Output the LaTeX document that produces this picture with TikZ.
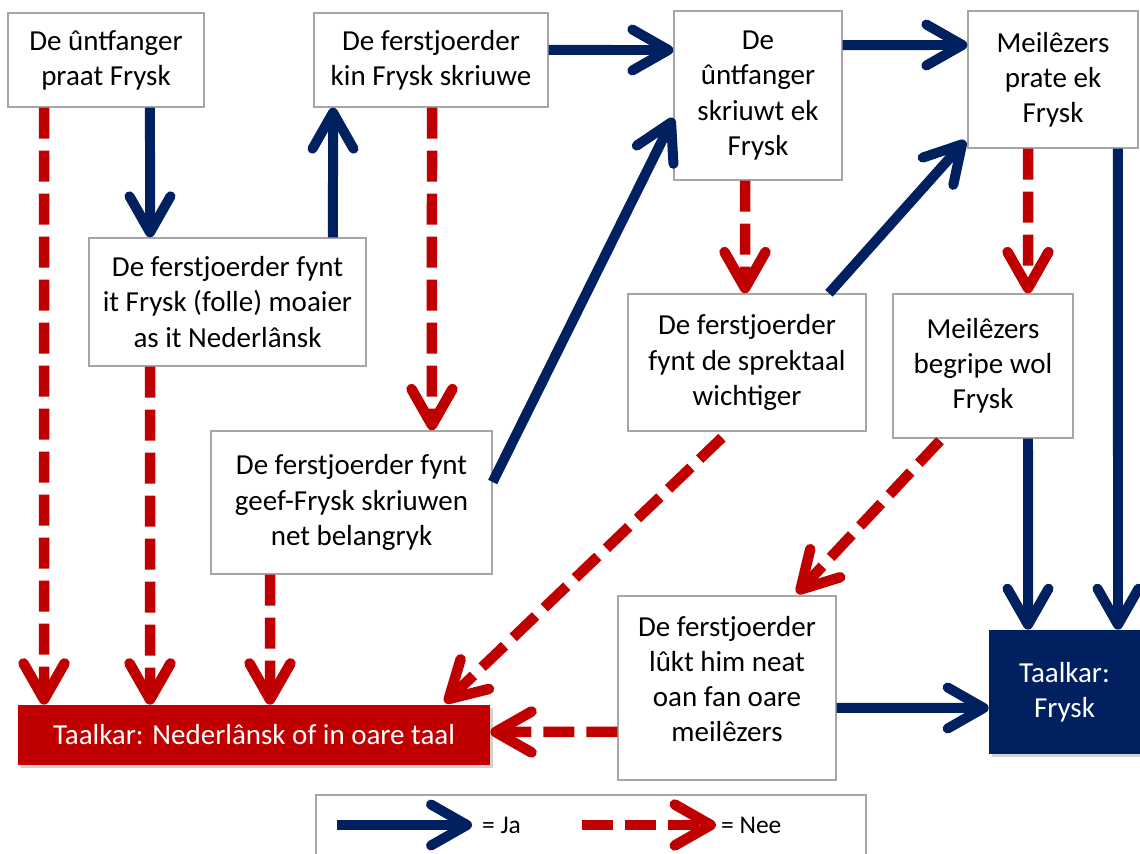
\documentclass[tikz,border=0pt]{standalone}
\usepackage{fontspec}
\setmainfont{Carlito}
\usetikzlibrary{arrows.meta,shadows}
\definecolor{jablue}{HTML}{002060}
\definecolor{neered}{HTML}{C00000}
\definecolor{boxgrey}{HTML}{A6A6A6}
\tikzset{
  box/.style={draw=boxgrey, line width=0.8pt, fill=white, align=center, inner sep=2pt},
  nlbox/.style={fill=neered, text=white, align=center, drop shadow={shadow xshift=0.06cm, shadow yshift=-0.06cm, opacity=0.35}},
  fybox/.style={fill=jablue, text=white, align=center, drop shadow={shadow xshift=0.06cm, shadow yshift=-0.06cm, opacity=0.35}},
  ja/.style={draw=jablue, line width=0.2cm, -{Straight Barb[round, length=0.72cm, width=0.82cm]}},
  nee/.style={draw=neered, line width=0.21cm, dash pattern=on 0.62cm off 0.24cm, -{Straight Barb[round, length=0.72cm, width=0.82cm]}},
  legtext/.style={anchor=west, inner sep=1pt, font=\fontsize{14.5}{18}\selectfont}
}
\begin{document}
\begin{tikzpicture}[x=0.02cm, y=-0.02cm, font=\fontsize{16.5}{20}\selectfont]
\useasboundingbox (0,0) rectangle (1140,854);
\fill[white] (0,0) rectangle (1140,854);

% boxes
\node[box, minimum width=3.92cm, minimum height=1.88cm] (A) at (106,60) {De ûntfanger\\praat Frysk};
\node[box, minimum width=4.68cm, minimum height=1.88cm] (B) at (431,60) {De ferstjoerder\\kin Frysk skriuwe};
\node[box, minimum width=3.36cm, minimum height=3.38cm] (C) at (758,95.5) {De\\ûntfanger\\skriuwt ek\\Frysk};
\node[box, minimum width=3.40cm, minimum height=2.74cm] (D) at (1053,79.5) {Meilêzers\\prate ek\\Frysk};
\node[box, minimum width=5.54cm, minimum height=2.56cm] (E) at (227.5,302) {De ferstjoerder fynt\\it Frysk (folle) moaier\\as it Nederlânsk};
\node[box, minimum width=4.76cm, minimum height=2.74cm] (F) at (747,362.5) {De ferstjoerder\\fynt de sprektaal\\wichtiger};
\node[box, minimum width=3.60cm, minimum height=2.88cm] (G) at (983,366) {Meilêzers\\begripe wol\\Frysk};
\node[box, minimum width=5.62cm, minimum height=2.86cm] (H) at (351.5,502.5) {De ferstjoerder fynt\\geef-Frysk skriuwen\\net belangryk};
\node[box, minimum width=4.36cm, minimum height=3.68cm, text depth=0.36cm] (I) at (727,688) {De ferstjoerder\\lûkt him neat\\oan fan oare\\meilêzers};
\node[nlbox, minimum width=9.44cm, minimum height=1.2cm] (NL) at (254,735) {Taalkar: Nederlânsk of in oare taal};
\node[fybox, minimum width=3.02cm, minimum height=2.48cm] (FY) at (1064.5,692) {Taalkar:\\Frysk};

% legend
\node[box, minimum width=11cm, minimum height=1.6cm] (leg) at (591,835) {};
\coordinate (ja1) at (337,825);
\coordinate (ja2) at (472,825);
\node[legtext] (jat) at (480,825) {= Ja};
\coordinate (nee1) at (582,825);
\coordinate (nee2) at (716,825);
\node[legtext] (neet) at (719,825) {= Nee};
\draw[ja] (ja1) -- (ja2);
\draw[nee] (nee1) -- (nee2);

% ja connectors
\draw[ja] ([xshift=0.88cm]A.south) -- ([xshift=-1.55cm]E.north);
\draw[ja] ([xshift=2.11cm]E.north) -- ([xshift=-1.96cm]B.south);
\draw[ja] ([yshift=0.2cm]B.east) -- ([yshift=0.91cm]C.west);
\draw[ja] ([yshift=1.01cm]C.east) -- ([yshift=0.69cm]D.west);
\draw[ja] ([yshift=0.41cm]H.east) -- ([yshift=-0.45cm]C.west);
\draw[ja] ([xshift=1.64cm]F.north) -- ([yshift=0.16cm,xshift=-0.04cm]D.south west);
\draw[ja] ([xshift=1.3cm]D.south) -- ([xshift=1.07cm]FY.north);
\draw[ja] ([xshift=0.9cm]G.south) -- ([xshift=-0.73cm]FY.north);
\draw[ja] ([yshift=-0.4cm]I.east) -- ([yshift=-0.32cm]FY.west);

% nee connectors
\draw[nee] ([xshift=-1.24cm]A.south) -- ([xshift=-4.2cm]NL.north);
\draw[nee] ([xshift=-1.55cm]E.south) -- ([xshift=-2.08cm]NL.north);
\draw[nee] ([xshift=-1.63cm]H.south) -- ([xshift=0.32cm]NL.north);
\draw[nee] ([xshift=0.02cm]B.south) -- ([xshift=1.61cm]H.north);
\draw[nee] ([xshift=-0.26cm]C.south) -- ([xshift=-0.04cm]F.north);
\draw[nee] ([xshift=-0.5cm]D.south) -- ([xshift=0.9cm]G.north);
\draw[nee] ([xshift=-0.5cm,yshift=-0.12cm]F.south) -- ([xshift=3.82cm,yshift=0.04cm]NL.north);
\draw[nee] ([xshift=-0.86cm,yshift=-0.04cm]G.south) -- ([xshift=1.4cm,yshift=0.04cm]I.north);
\draw[nee] ([yshift=-0.88cm]I.west) -- ([yshift=0.06cm]NL.east);
\end{tikzpicture}
\end{document}
